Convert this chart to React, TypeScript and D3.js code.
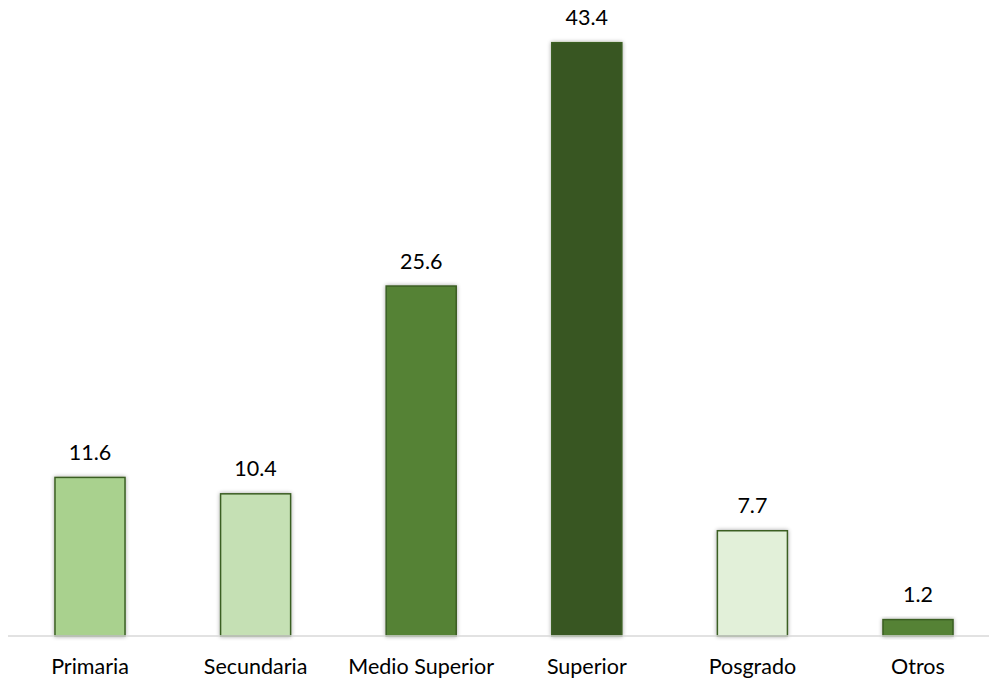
import React from "react";
import * as d3 from "d3";

const categories = ["Primaria", "Secundaria", "Medio Superior", "Superior", "Posgrado", "Otros"];
const values = [11.6, 10.4, 25.6, 43.4, 7.7, 1.2];
const fills = ["#a9d18e", "#c5e0b4", "#548235", "#385723", "#e2f0d9", "#548235"];

const W = 989;
const H = 682;
const baseY = 636;
const font = "Lato, 'Open Sans', sans-serif";

export default function App() {
  const x = d3
    .scaleBand<string>()
    .domain(categories)
    .range([7.2, 1000.8])
    .paddingInner(0.577)
    .paddingOuter(0.2885);
  const y = d3.scaleLinear().domain([0, 43.4]).range([baseY, 42.7]);

  return (
    <svg
      width={W}
      height={H}
      style={{ position: "absolute", left: 0, top: 0, background: "#fff" }}
      fontFamily={font}
    >
      <defs>
        <filter id="sh" x="-20%" y="-20%" width="140%" height="140%">
          <feGaussianBlur in="SourceAlpha" stdDeviation="2" />
          <feOffset dx="0" dy="0" result="b" />
          <feComponentTransfer>
            <feFuncA type="linear" slope="0.35" />
          </feComponentTransfer>
          <feMerge>
            <feMergeNode />
            <feMergeNode in="SourceGraphic" />
          </feMerge>
        </filter>
      </defs>
      {categories.map((c, i) => {
        const bx = x(c)!;
        const bw = x.bandwidth();
        const top = y(values[i]);
        return (
          <g key={c}>
            <rect
              x={bx}
              y={top}
              width={bw}
              height={baseY - top}
              fill={fills[i]}
              stroke="#3b5e24"
              strokeWidth={1.5}
              filter="url(#sh)"
            />
            <text
              x={bx + bw / 2}
              y={top - 17.5}
              textAnchor="middle"
              fontSize={21.5}
              fill="#000"
            >
              {values[i].toFixed(1)}
            </text>
            <text
              x={bx + bw / 2}
              y={674}
              textAnchor="middle"
              fontSize={21.5}
              fill="#000"
            >
              {c}
            </text>
          </g>
        );
      })}
      <line x1={8} x2={W} y1={baseY} y2={baseY} stroke="#d9d9d9" strokeWidth={1.5} />
    </svg>
  );
}
